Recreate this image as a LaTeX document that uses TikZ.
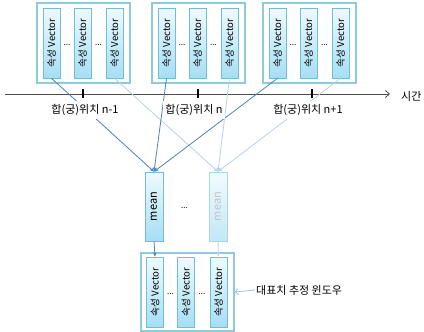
\documentclass[tikz,border=0pt]{standalone}
\usepackage{fontspec}
\setmainfont{Noto Sans CJK KR}
\usetikzlibrary{arrows.meta}

\definecolor{boxedge}{HTML}{8CCCDA}
\definecolor{vecedge}{HTML}{6FBDD6}
\definecolor{vectop}{HTML}{EEFAFE}
\definecolor{vecbot}{HTML}{A6DEF4}
\definecolor{darkline}{HTML}{4F7FBF}
\definecolor{lightline}{HTML}{BACFE8}
\definecolor{fadedtext}{HTML}{C4C4C4}
\definecolor{fadededge}{HTML}{A9D7E4}
\definecolor{fadedtop}{HTML}{F2FBFE}
\definecolor{fadedbot}{HTML}{C2E7F5}

\tikzset{
  group/.style={draw=boxedge, line width=1.5pt, fill=white,
    minimum width=93pt, minimum height=80pt, inner sep=0pt},
  vecbox/.style={draw=vecedge, line width=0.6pt, top color=vectop, bottom color=vecbot,
    minimum width=17pt, minimum height=70pt, inner sep=0pt,
    font=\fontsize{9.6}{9.6}\selectfont},
  meanbox/.style={draw=vecedge, line width=0.6pt, top color=vectop, bottom color=vecbot,
    minimum width=18pt, minimum height=69pt, inner sep=0pt,
    font=\fontsize{11}{11}\selectfont},
  fadedmean/.style={meanbox, draw=fadededge, top color=fadedtop, bottom color=fadedbot,
    text=fadedtext},
  dots/.style={font=\fontsize{8}{8}\selectfont, inner sep=0pt},
  poslabel/.style={fill=white, inner xsep=2pt, inner ysep=3pt,
    font=\fontsize{11}{11}\selectfont},
  plainlabel/.style={inner sep=1pt, font=\fontsize{11}{11}\selectfont},
  darkarrow/.style={draw=darkline, line width=0.8pt,
    -{Stealth[length=4.5pt,width=3.5pt]}},
  lightarrow/.style={draw=lightline, line width=0.8pt,
    -{Stealth[length=4.5pt,width=3.5pt]}},
  timeaxis/.style={draw=black!70, line width=0.8pt,
    -{Straight Barb[length=4pt,width=7pt]}},
  tickmark/.style={draw=black, line width=1.6pt},
}

\newcommand{\vtext}[1]{\rotatebox{90}{#1}}

\begin{document}
\begin{tikzpicture}[x=1pt,y=-1pt]
\useasboundingbox (0,0) rectangle (424,332);

% three windows of attribute vectors along the time axis
\foreach \g/\cx in {1/83.5, 2/198.5, 3/309.5}{
  \node[group] (g\g) at (\cx,43) {};
  \node[vecbox] (g\g a) at (\cx-32,43) {\vtext{속성 Vector}};
  \node[vecbox] (g\g b) at (\cx-1,43)  {\vtext{속성 Vector}};
  \node[vecbox] (g\g c) at (\cx+31,43) {\vtext{속성 Vector}};
  \node[dots] (g\g d1) at (\cx-16.5,45) {...};
  \node[dots] (g\g d2) at (\cx+15,45) {...};
}

% time axis with tick marks
\coordinate (ax0) at (5,94);
\coordinate (ax1) at (390,94);
\draw[timeaxis] (ax0) -- (ax1);
\node[plainlabel, anchor=west] (tlab) at (400,96) {시간};
\foreach \t in {83,198,312}{
  \draw[tickmark] (\t,89) -- (\t,98);
}

% mean nodes
\node[meanbox] (m1) at (154,206.5) {\vtext{mean}};
\node[fadedmean] (m2) at (218,206.5) {\vtext{mean}};
\node[dots] (md) at (184.5,208) {...};

% representative-value window
\node[group, minimum height=78pt] (bg) at (187.5,292) {};
\node[vecbox] (b1) at (155,292) {\vtext{속성 Vector}};
\node[vecbox] (b2) at (186,292) {\vtext{속성 Vector}};
\node[vecbox] (b3) at (218.5,292) {\vtext{속성 Vector}};
\node[dots] (bd1) at (170.5,294) {...};
\node[dots] (bd2) at (202,294) {...};

% vectors feeding the means
\draw[lightarrow] (g1c.south) -- (m2.north);
\draw[lightarrow] (g2c.south) -- (m2.north);
\draw[lightarrow] (g3c.south) -- (m2.north);
\draw[darkarrow] (g1a.south) -- (m1.north);
\draw[darkarrow] (g2a.south) -- (m1.north);
\draw[darkarrow] (g3a.south) -- (m1.north);

% means into the window
\draw[darkarrow] (m1.south) -- (b1.north);
\draw[lightarrow] (m2.south) -- (b3.north);

% position labels (over the connectors)
\node[poslabel] (p1) at (85,110) {합(궁)위치 n-1};
\node[poslabel] (p2) at (194,110) {합(궁)위치 n};
\node[poslabel] (p3) at (308,110) {합(궁)위치 n+1};

% window caption
\node[plainlabel, anchor=west] (wlab) at (255,290) {대표치 추정 윈도우};
\draw[draw=lightline!80!darkline, line width=0.8pt,
  -{Straight Barb[length=3pt,width=6pt]}] (wlab.west) -- (bg.east);
\end{tikzpicture}
\end{document}
